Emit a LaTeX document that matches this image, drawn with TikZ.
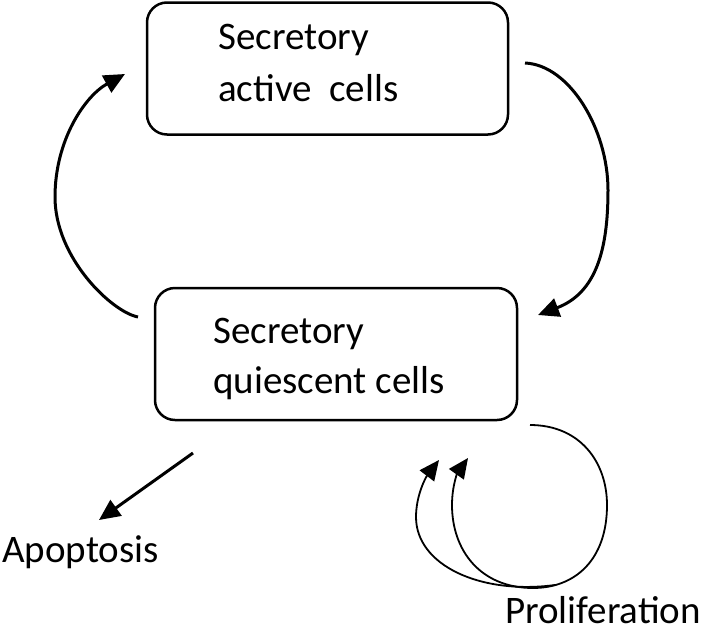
\documentclass[tikz,border=0pt]{standalone}
\usepackage{fontspec}
\setmainfont{Carlito}
\usetikzlibrary{arrows.meta}
\tikzset{
  cellbox/.style={draw, line width=2.5pt, rounded corners=20pt, inner sep=0pt},
  lbl/.style={anchor=base west, inner sep=0pt, font=\fontsize{39}{47}\selectfont},
  cyc/.style={line width=3pt, -{Triangle[length=21pt,width=19pt]}},
  prol/.style={line width=1.8pt, -{Triangle[length=20pt,width=18pt]}},
}
\begin{document}
\begin{tikzpicture}[x=1pt,y=-1pt]
\useasboundingbox (0,0) rectangle (709,632);
% boxes
\node[cellbox, minimum width=361pt, minimum height=132pt] (active) at (327.5,68.5) {};
\node[cellbox, minimum width=362pt, minimum height=132pt] (quiescent) at (336,354) {};
% texts
\node[lbl] (t1) at (218,49) {Secretory};
\node[lbl] (t2) at (218,101) {active\ \ cells};
\node[lbl] (t3) at (213,343) {Secretory};
\node[lbl] (t4) at (213,393) {quiescent cells};
\node[lbl] (apo) at (2,562) {Apoptosis};
\node[lbl] (pro) at (505,623) {Proliferation};
% connector end points
\coordinate (la) at (138,317);
\coordinate (lm) at (55,197);
\coordinate (lb) at (125,74);
\coordinate (ra) at (525,63);
\coordinate (rm) at (608,190);
\coordinate (rb) at (538,315);
\coordinate (aa) at (193,453);
\coordinate (ab) at (99,520);
\coordinate (ca) at (530,425);
\coordinate (cr) at (607,505);
\coordinate (cb) at (533,588);
\coordinate (cl) at (452,505);
\coordinate (ct) at (468,458);
\coordinate (oa) at (555,585);
\coordinate (ol) at (416,517);
\coordinate (ot) at (439,460);
% cycle arrows
\draw[cyc] (la) .. controls (112,312) and (55,258) .. (lm) .. controls (55,140) and (85,96) .. (lb);
\draw[cyc] (ra) .. controls (570,65) and (608,130) .. (rm) .. controls (608,250) and (596,293) .. (rb);
% apoptosis
\draw[cyc] (aa) -- (ab);
% proliferation loops
\draw[prol] (ca) .. controls (580,425) and (607,462) .. (cr) .. controls (607,560) and (575,588) .. (cb) .. controls (480,588) and (452,550) .. (cl) .. controls (452,485) and (458,472) .. (ct);
\draw[prol] (oa) .. controls (480,595) and (416,565) .. (ol) .. controls (416,495) and (426,477) .. (ot);
\end{tikzpicture}
\end{document}
